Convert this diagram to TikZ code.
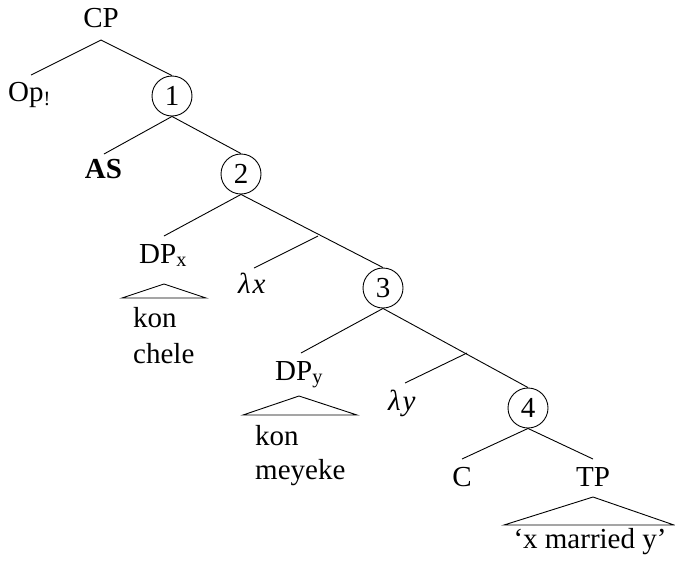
\documentclass[tikz,border=0pt]{standalone}
\usepackage{fontspec}
\setmainfont{Liberation Serif}
\begin{document}
\begin{tikzpicture}[x=1pt,y=-1pt,
  every node/.style={font=\fontsize{29}{33}\selectfont, inner sep=0pt},
  lbl/.style={anchor=base},
  lblw/.style={anchor=base west},
  num/.style={draw, circle, minimum size=40pt, line width=0.9pt},
  edge/.style={line width=0.9pt},
  tri/.style={line width=0.9pt, line join=miter}]
\useasboundingbox (0,0) rectangle (675,563);

% category labels
\node[lbl]  (cp) at (101,27) {CP};
\node[lblw] (op) at (8,101) {Op\textsubscript{!}};
\node[lbl]  (as) at (103.5,178) {\textbf{AS}};
\node[lblw] (dpx) at (139,263) {DP\textsubscript{x}};
\node[lblw] (lx) at (238,293) {\textit{λ\kern2pt x}};
\node[lblw] (dpy) at (275,380) {DP\textsubscript{y}};
\node[lblw] (ly) at (388,410) {\textit{λ\kern2pt y}};
\node[lbl]  (c) at (462,486) {C};
\node[lbl]  (tp) at (593,486) {TP};

% terminal strings
\node[lblw] (kon1) at (133,327) {kon};
\node[lblw] (chele) at (133,363) {chele};
\node[lblw] (kon2) at (255,445) {kon};
\node[lblw] (meyeke) at (255,479) {meyeke};
\node[lbl]  (xmy) at (590,548) {‘x married y’};

% numbered intermediate nodes
\node[num] (n1) at (172,96)  {1};
\node[num] (n2) at (241,174) {2};
\node[num] (n3) at (383,288) {3};
\node[num] (n4) at (528,408) {4};

% branch points and line ends
\coordinate (cp-b) at (101,40);
\coordinate (op-t) at (31,75);
\coordinate (as-t) at (104,154);
\coordinate (dpx-t) at (164,236);
\coordinate (m2) at (318,236);
\coordinate (lx-t) at (254,268);
\coordinate (dpy-t) at (301,353);
\coordinate (m3) at (467,353);
\coordinate (ly-t) at (405,383);
\coordinate (c-t) at (462,459);
\coordinate (tp-t) at (593,459);

% branches
\draw[edge] (op-t) -- (cp-b) -- (n1.north);
\draw[edge] (as-t) -- (n1.south) -- (n2.north);
\draw[edge] (dpx-t) -- (n2.south) -- (n3.north);
\draw[edge] (lx-t) -- (m2);
\draw[edge] (dpy-t) -- (n3.south) -- (n4.north);
\draw[edge] (ly-t) -- (m3);
\draw[edge] (c-t) -- (n4.south) -- (tp-t);

% roof triangles over unanalysed material
\coordinate (t1a) at (164,284);
\coordinate (t1l) at (122,298);
\coordinate (t1r) at (206,298);
\draw[tri] (t1l) -- (t1a) -- (t1r) -- cycle;
\coordinate (t2a) at (299,396);
\coordinate (t2l) at (243,415);
\coordinate (t2r) at (357,415);
\draw[tri] (t2l) -- (t2a) -- (t2r) -- cycle;
\coordinate (t3a) at (593,497);
\coordinate (t3l) at (504,525);
\coordinate (t3r) at (674,525);
\draw[tri] (t3l) -- (t3a) -- (t3r) -- cycle;
\end{tikzpicture}
\end{document}
